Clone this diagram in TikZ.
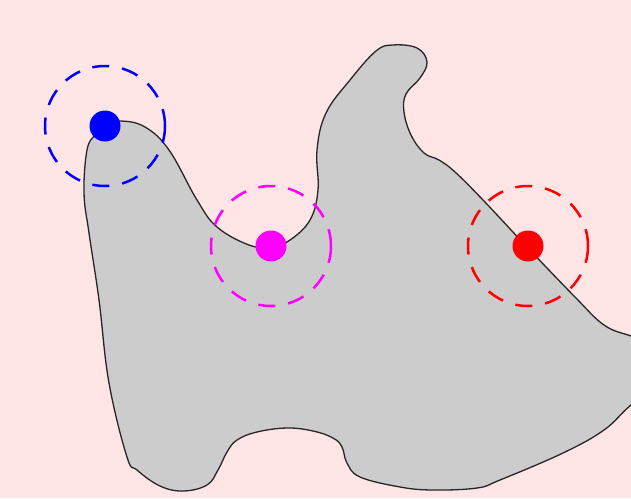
\documentclass[tikz,border=0pt]{standalone}
\usepackage{xcolor}
\usepackage{tikz}
\usetikzlibrary{positioning}

\definecolor{bgpink}{RGB}{255,229,229}
\definecolor{regiongray}{RGB}{204,204,204}
\definecolor{ptblue}{RGB}{0,0,255}
\definecolor{ptmagenta}{RGB}{255,0,255}
\definecolor{ptred}{RGB}{255,0,0}

\begin{document}
\begin{tikzpicture}[x=1pt, y=-1pt,
  region/.style={fill=regiongray, draw=black!85, line width=1.3pt},
  dot/.style={circle, fill=#1, inner sep=0pt, minimum size=31pt},
  ring/.style={circle, draw=#1, line width=2.5pt, inner sep=0pt, minimum size=120pt,
    dash pattern=on 17pt off 13pt}
]

% Background and frame
\fill[bgpink] (0,0) rectangle (631,498);
\useasboundingbox (0,0) rectangle (631,498);
\clip (0,0) rectangle (631,498);

% Gray region
\draw[region] plot[smooth cycle, tension=0.65] coordinates {
  (121,121) (145,127) (169,150) (197,200) (217,227) (249,245) (271,247)
  (290,240) (310,220) (318,190) (317,150) (326,113) (350,80) (376,51)
  (393,45) (417,48) (427,62) (420,78) (406,94) (404,112) (411,135)
  (424,153) (439,160) (455,172) (483,200) (527,247) (575,297) (604,325)
  (631,336) (660,345) (665,380) (631,405) (604,430) (563,453) (500,480)
  (477,488) (433,490) (400,487) (360,477) (347,463) (342,447) (333,438)
  (313,431) (287,428) (257,432) (237,440) (227,452) (218,470) (207,485)
  (183,491) (160,486) (137,470) (127,457)
  (109,383) (99,300) (89,233) (84,193) (87,150) (95,135) (105,125)};

% Points
\node[dot=ptblue] (bluedot) at (105,126) {};
\node[dot=ptmagenta] (magdot) at (271,246) {};
\node[dot=ptred] (reddot) at (528,246) {};

% Neighbourhoods
\node[ring=ptblue] (bluering) at (bluedot) {};
\node[ring=ptmagenta] (magring) at (magdot) {};
\node[ring=ptred] (redring) at (reddot) {};

\end{tikzpicture}
\end{document}
